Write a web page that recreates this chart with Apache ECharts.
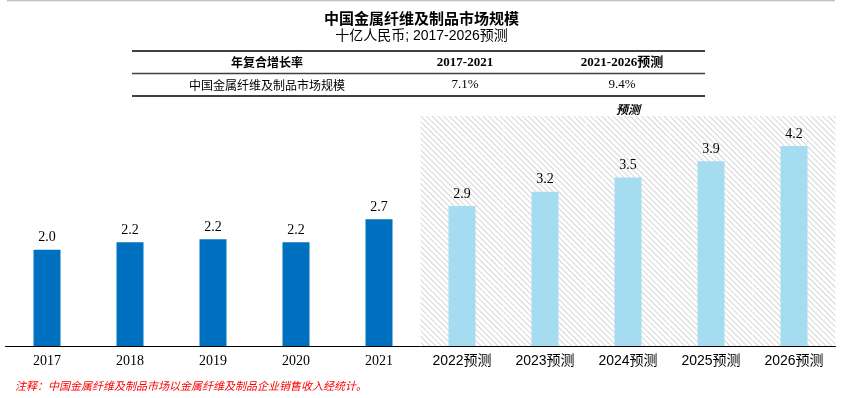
<!DOCTYPE html>
<html>
<head>
<meta charset="utf-8">
<script src="https://cdn.jsdelivr.net/npm/echarts@6/dist/echarts.min.js"></script>
<style>
html,body{margin:0;padding:0;background:#fff;}
#chart{width:843px;height:398px;}
</style>
</head>
<body>
<div id="chart"></div>
<script>
// ---- data ----
var categories = ['2017','2018','2019','2020','2021','2022预测','2023预测','2024预测','2025预测','2026预测'];
var marketSize = [2.02, 2.18, 2.24, 2.18, 2.66, 2.94, 3.24, 3.54, 3.88, 4.2];
var isForecast = [false,false,false,false,false,true,true,true,true,true];
var titleText = '中国金属纤维及制品市场规模';
var subtitleText = '十亿人民币; 2017-2026预测';
var cagrHeader = ['年复合增长率', '2017-2021', '2021-2026预测'];
var cagrRow = ['中国金属纤维及制品市场规模', '7.1%', '9.4%'];
var forecastLabel = '预测';
var noteText = '注释：中国金属纤维及制品市场以金属纤维及制品企业销售收入经统计。';

var Y_MAX = 4.83;
var serif = '"Liberation Serif","Noto Sans CJK SC",serif';
var sans = '"Liberation Sans","Noto Sans CJK SC",sans-serif';

var hatchData = categories.map(function(c, i){ return isForecast[i] ? Y_MAX : '-'; });
var barData = marketSize.map(function(v, i){
  return { value: v, itemStyle: { color: isForecast[i] ? '#A6DCEF' : '#0070C0' } };
});

var chart = echarts.init(document.getElementById('chart'), null, {renderer:'canvas'});

var tableLeft = 132, tableRight = 705;
var colX = [267, 465, 622];
var graphics = [
  {type:'line', shape:{x1:7,y1:0.5,x2:835,y2:0.5}, style:{stroke:'#bfbfbf', lineWidth:1.5}},
  {type:'line', shape:{x1:tableLeft,y1:51,x2:tableRight,y2:51}, style:{stroke:'#404040', lineWidth:2}},
  {type:'line', shape:{x1:tableLeft,y1:73.5,x2:tableRight,y2:73.5}, style:{stroke:'#404040', lineWidth:1.5}},
  {type:'line', shape:{x1:tableLeft,y1:96,x2:tableRight,y2:96}, style:{stroke:'#404040', lineWidth:2}},
  {type:'text', left: 15, top: 380, style:{text: noteText, fill:'#FF0000', font:'italic 11px "Noto Sans CJK SC", sans-serif'}}
];
cagrHeader.forEach(function(t, i){
  graphics.push({type:'text', x: colX[i], y: 62.5, style:{text:t, fill:'#000', align:'center', verticalAlign:'middle', font:'bold ' + (i===0 ? '12px "Noto Sans CJK SC"' : '13px ' + serif)}});
});
cagrRow.forEach(function(t, i){
  graphics.push({type:'text', x: colX[i], y: 85, style:{text:t, fill:'#000', align:'center', verticalAlign:'middle', font:(i===0 ? '12px "Noto Sans CJK SC"' : '13px ' + serif)}});
});

var option = {
  animation: false,
  backgroundColor: '#fff',
  title: {
    text: titleText,
    subtext: subtitleText,
    left: 'center',
    top: 6,
    itemGap: 3,
    textStyle: {fontSize: 15, fontWeight: 'bold', color: '#000', fontFamily: '"Noto Sans CJK SC"'},
    subtextStyle: {fontSize: 14, color: '#000', fontFamily: sans}
  },
  grid: {left: 5.5, right: 7.5, top: 116, bottom: 52, containLabel: false},
  xAxis: [
    {
      type: 'category',
      data: categories,
      axisLine: {lineStyle: {color: '#000', width: 1}},
      axisTick: {show: false},
      axisLabel: {
        interval: 0,
        margin: 8,
        fontSize: 14,
        color: '#000',
        fontFamily: serif,
        formatter: function(v, i){ return isForecast[i] ? '{f|' + v + '}' : v; },
        rich: { f: {fontSize: 14, color: '#000', fontFamily: sans} }
      },
      z: 5
    },
    {
      type: 'category',
      data: categories,
      show: false
    }
  ],
  yAxis: {type: 'value', min: 0, max: Y_MAX, show: false, splitLine: {show: false}},
  series: [
    {
      type: 'bar',
      xAxisIndex: 1,
      barWidth: '100%',
      silent: true,
      data: hatchData,
      itemStyle: {
        color: '#ffffff',
        decal: {
          symbol: 'rect',
          symbolSize: 1,
          dashArrayX: [1, 0],
          dashArrayY: [1, 3],
          rotation: Math.PI / 4,
          color: '#d6d6d6',
          backgroundColor: '#ffffff'
        }
      },
      label: {
        show: true,
        position: 'top',
        distance: 1,
        formatter: function(p){ return p.dataIndex === 7 ? forecastLabel : ''; },
        fontSize: 12,
        fontWeight: 'bold',
        fontStyle: 'italic',
        color: '#000',
        fontFamily: '"Noto Sans CJK SC"'
      },
      z: 1
    },
    {
      type: 'bar',
      xAxisIndex: 0,
      barWidth: 27,
      data: barData,
      label: {
        show: true,
        position: 'top',
        distance: 5,
        fontSize: 14,
        color: '#000',
        fontFamily: serif,
        formatter: function(p){ return p.value.toFixed(1); }
      },
      z: 3
    }
  ],
  graphic: graphics
};
chart.setOption(option);
</script>
</body>
</html>
